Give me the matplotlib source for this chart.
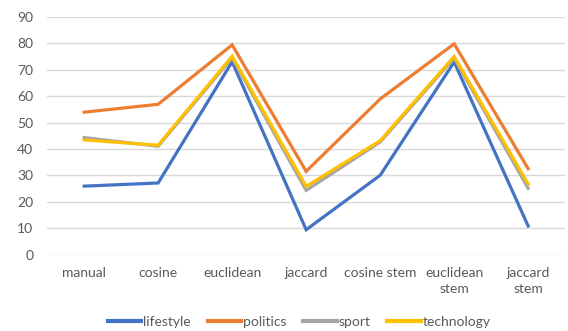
import matplotlib.pyplot as plt

plt.rcParams['font.family'] = ['Lato', 'DejaVu Sans']

# categories and scores
methods = ['manual', 'cosine', 'euclidean', 'jaccard', 'cosine stem',
           'euclidean\nstem', 'jaccard\nstem']
lifestyle = [25.9, 27.1, 73.0, 9.4, 30.0, 72.9, 10.8]
politics = [53.9, 56.9, 79.4, 31.5, 58.9, 79.8, 32.5]
sport = [44.3, 41.0, 74.5, 24.3, 42.6, 74.4, 25.1]
technology = [43.4, 41.4, 75.1, 25.8, 43.1, 75.0, 26.7]

series = [('lifestyle', lifestyle, '#4472C4'),
          ('politics', politics, '#ED7D31'),
          ('sport', sport, '#A5A5A5'),
          ('technology', technology, '#FFC000')]

fig = plt.figure(figsize=(5.68, 3.31), dpi=100)
ax = fig.add_axes([0.083, 0.231, 0.912, 0.718])

x = range(len(methods))
for name, vals, col in series:
    ax.plot(x, vals, color=col, lw=2.3, label=name, solid_joinstyle='miter')

ax.set_xlim(-0.5, len(methods) - 0.5)
ax.set_ylim(0, 90)
ax.set_yticks(range(0, 91, 10))
ax.set_xticks(list(x))
ax.set_xticklabels(methods, linespacing=1.4)
ax.tick_params(length=0, labelsize=10, colors='#595959')
ax.tick_params(axis='x', pad=9)
ax.tick_params(axis='y', pad=10)
ax.grid(axis='y', color='#D9D9D9', lw=1)
ax.set_axisbelow(True)
for s in ax.spines.values():
    s.set_visible(False)

leg = fig.legend(loc='lower center', bbox_to_anchor=(0.527, -0.028), ncol=4,
                 frameon=False, fontsize=10, handlelength=2.4,
                 handletextpad=0.15, columnspacing=1.2)
for t in leg.get_texts():
    t.set_color('#595959')
for h in leg.get_lines():
    h.set_linewidth(3)

fig.savefig('out.png', dpi=100)
